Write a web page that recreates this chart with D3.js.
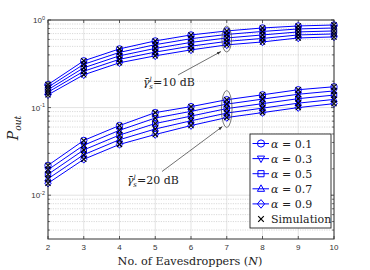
<!DOCTYPE html>
<html>
<head>
<meta charset="utf-8">
<script src="https://cdn.jsdelivr.net/npm/d3@7/dist/d3.min.js"></script>
<style>
  body { margin: 0; background: #fff; }
  svg { display: block; }
  .tick-label { font-family: "Liberation Sans", Arial, sans-serif; font-size: 8px; fill: #333; }
  .serif { font-family: "DejaVu Serif", "Liberation Serif", serif; fill: #222; }
</style>
</head>
<body>
<div id="chart"></div>
<script>
const W = 370, H = 270;
const margin = { left: 48, right: 36, top: 20, bottom: 31 };

// number of eavesdroppers
const eaves = [2, 3, 4, 5, 6, 7, 8, 9, 10];
const alphas = ['0.1', '0.3', '0.5', '0.7', '0.9'];
const markers = ['circle', 'triDown', 'square', 'triUp', 'diamond'];

// P_out, gamma = 10 dB
const hi01 = [0.183, 0.342, 0.468, 0.577, 0.675, 0.750, 0.811, 0.855, 0.877];
const hi03 = [0.171, 0.312, 0.427, 0.523, 0.612, 0.684, 0.740, 0.790, 0.811];
const hi05 = [0.160, 0.285, 0.390, 0.474, 0.555, 0.624, 0.675, 0.731, 0.750];
const hi07 = [0.150, 0.260, 0.356, 0.430, 0.503, 0.570, 0.616, 0.675, 0.693];
const hi09 = [0.140, 0.237, 0.325, 0.390, 0.456, 0.520, 0.562, 0.624, 0.641];

// P_out, gamma = 20 dB
const lo01 = [0.0219, 0.0422, 0.0624, 0.0877, 0.1026, 0.123, 0.140, 0.160, 0.173];
const lo03 = [0.0195, 0.0372, 0.0551, 0.0760, 0.0906, 0.1096, 0.125, 0.142, 0.155];
const lo05 = [0.0173, 0.0329, 0.0486, 0.0658, 0.0800, 0.0975, 0.111, 0.1265, 0.139];
const lo07 = [0.0154, 0.0290, 0.0430, 0.0570, 0.0707, 0.0866, 0.0986, 0.1124, 0.124];
const lo09 = [0.0137, 0.0257, 0.0380, 0.0493, 0.0624, 0.077, 0.0877, 0.100, 0.111];

const series = [
  { alpha: alphas[0], marker: markers[0], hi: hi01, lo: lo01 },
  { alpha: alphas[1], marker: markers[1], hi: hi03, lo: lo03 },
  { alpha: alphas[2], marker: markers[2], hi: hi05, lo: lo05 },
  { alpha: alphas[3], marker: markers[3], hi: hi07, lo: lo07 },
  { alpha: alphas[4], marker: markers[4], hi: hi09, lo: lo09 },
];

const yMin = Math.pow(10, -2.5);
const yTicks = [1e-2, 1e-1, 1];
const yTickExp = ['-2', '-1', '0'];

const svg = d3.select('#chart').append('svg').attr('width', W).attr('height', H);

const x = d3.scaleLinear().domain([2, 10]).range([margin.left, W - margin.right]);
const y = d3.scaleLog().domain([yMin, 1]).range([H - margin.bottom, margin.top]);

const x0 = x.range()[0], x1 = x.range()[1], y0 = y.range()[0], y1 = y.range()[1];

// minor ticks in log space
const minor = [];
[-3, -2, -1].forEach(e => {
  for (let k = 2; k <= 9; k++) {
    const v = k * Math.pow(10, e);
    if (v >= yMin && v < 1) minor.push(v);
  }
});

const grid = svg.append('g');
grid.selectAll('.vg').data(eaves).enter().append('line')
  .attr('x1', d => x(d)).attr('x2', d => x(d)).attr('y1', y0).attr('y2', y1)
  .attr('stroke', '#e3e3e3').attr('stroke-width', 1);
grid.selectAll('.mg').data(minor).enter().append('line')
  .attr('x1', x0).attr('x2', x1).attr('y1', d => y(d)).attr('y2', d => y(d))
  .attr('stroke', '#cfcfcf').attr('stroke-width', 0.8).attr('stroke-dasharray', '1.2,1.2');
grid.selectAll('.hg').data(yTicks).enter().append('line')
  .attr('x1', x0).attr('x2', x1).attr('y1', d => y(d)).attr('y2', d => y(d))
  .attr('stroke', '#e3e3e3').attr('stroke-width', 1);

// ticks (inside, all four sides)
const ticks = svg.append('g').attr('stroke', '#333').attr('stroke-width', 0.8);
eaves.forEach(d => {
  ticks.append('line').attr('x1', x(d)).attr('x2', x(d)).attr('y1', y0).attr('y2', y0 - 3);
  ticks.append('line').attr('x1', x(d)).attr('x2', x(d)).attr('y1', y1).attr('y2', y1 + 3);
});
yTicks.forEach(d => {
  ticks.append('line').attr('x1', x0).attr('x2', x0 + 3).attr('y1', y(d)).attr('y2', y(d));
  ticks.append('line').attr('x1', x1).attr('x2', x1 - 3).attr('y1', y(d)).attr('y2', y(d));
});
minor.forEach(d => {
  ticks.append('line').attr('x1', x0).attr('x2', x0 + 1.8).attr('y1', y(d)).attr('y2', y(d));
  ticks.append('line').attr('x1', x1).attr('x2', x1 - 1.8).attr('y1', y(d)).attr('y2', y(d));
});

// tick labels
svg.selectAll('.xl').data(eaves).enter().append('text')
  .attr('class', 'tick-label').attr('x', d => x(d)).attr('y', y0 + 11)
  .attr('text-anchor', 'middle').text(d => d);

yTicks.forEach((d, i) => {
  const t = svg.append('text').attr('class', 'tick-label')
    .attr('x', x0 - 3).attr('y', y(d) + 3).attr('text-anchor', 'end');
  t.append('tspan').text('10');
  t.append('tspan').attr('dy', -3.5).style('font-size', '5.5px').text(yTickExp[i]);
});

// curves
const line = d3.line().x(d => x(d[0])).y(d => y(d[1]));
const blue = '#0000ff';

const markerPath = (type, r) => {
  switch (type) {
    case 'circle': return d3.symbol(d3.symbolCircle, Math.PI * r * r)();
    case 'square': return `M${-r * 0.85},${-r * 0.85}h${r * 1.7}v${r * 1.7}h${-r * 1.7}Z`;
    case 'triUp': return `M0,${-r * 1.1}L${r},${r * 0.7}L${-r},${r * 0.7}Z`;
    case 'triDown': return `M0,${r * 1.1}L${r},${-r * 0.7}L${-r},${-r * 0.7}Z`;
    case 'diamond': return `M0,${-r * 1.2}L${r},0L0,${r * 1.2}L${-r},0Z`;
  }
};

const plot = svg.append('g');
series.forEach(s => {
  ['hi', 'lo'].forEach(k => {
    const pts = eaves.map((n, i) => [n, s[k][i]]);
    plot.append('path').attr('d', line(pts)).attr('fill', 'none')
      .attr('stroke', blue).attr('stroke-width', 1);
    plot.selectAll(null).data(pts).enter().append('path')
      .attr('transform', d => `translate(${x(d[0])},${y(d[1])})`)
      .attr('d', markerPath(s.marker, 3.2))
      .attr('fill', 'none').attr('stroke', blue).attr('stroke-width', 1);
  });
});
// simulation crosses
series.forEach(s => {
  ['hi', 'lo'].forEach(k => {
    const pts = eaves.map((n, i) => [n, s[k][i]]);
    plot.selectAll(null).data(pts).enter().append('path')
      .attr('transform', d => `translate(${x(d[0])},${y(d[1])})`)
      .attr('d', 'M-2.6,-2.6L2.6,2.6M-2.6,2.6L2.6,-2.6')
      .attr('stroke', '#000').attr('stroke-width', 1.1);
  });
});

// box
svg.append('rect').attr('x', x0).attr('y', y1).attr('width', x1 - x0).attr('height', y0 - y1)
  .attr('fill', 'none').attr('stroke', '#333').attr('stroke-width', 1);

// annotations
const ann = svg.append('g');
ann.append('ellipse').attr('cx', x(7)).attr('cy', 39).attr('rx', 4.8).attr('ry', 13)
  .attr('fill', 'none').attr('stroke', '#444').attr('stroke-width', 0.7);
ann.append('ellipse').attr('cx', x(7)).attr('cy', 109).attr('rx', 5.3).attr('ry', 18.5)
  .attr('fill', 'none').attr('stroke', '#444').attr('stroke-width', 0.7);

svg.append('defs').append('marker').attr('id', 'ah')
  .attr('viewBox', '0 0 10 10').attr('refX', 10).attr('refY', 5)
  .attr('markerWidth', 6).attr('markerHeight', 6).attr('orient', 'auto')
  .append('path').attr('d', 'M0,1.5L10,5L0,8.5Z').attr('fill', '#333');

ann.append('line').attr('x1', 178).attr('y1', 75).attr('x2', 221).attr('y2', 51.5)
  .attr('stroke', '#333').attr('stroke-width', 0.7).attr('marker-end', 'url(#ah)');
ann.append('line').attr('x1', 162).attr('y1', 171.5).attr('x2', 222.5).attr('y2', 126.5)
  .attr('stroke', '#333').attr('stroke-width', 0.7).attr('marker-end', 'url(#ah)');

const gammaLabel = (xp, yp, txt) => {
  const t = ann.append('text').attr('class', 'serif').attr('x', xp).attr('y', yp).style('font-size', '11px');
  t.append('tspan').style('font-style', 'italic').text('γ\u0304');
  t.append('tspan').attr('dy', -4).style('font-size', '7px').style('font-style', 'italic').text('l');
  t.append('tspan').attr('dx', -2.5).attr('dy', 7).style('font-size', '7px').style('font-style', 'italic').text('s');
  t.append('tspan').attr('dy', -3).text(txt);
};
gammaLabel(143, 86, '=10 dB');
gammaLabel(127, 184, '=20 dB');

// axis labels
const xl = svg.append('text').attr('class', 'serif').attr('x', (x0 + x1) / 2 - 1).attr('y', 265)
  .attr('text-anchor', 'middle').style('font-size', '11.2px');
xl.append('tspan').text('No. of Eavesdroppers (');
xl.append('tspan').style('font-style', 'italic').text('N');
xl.append('tspan').text(')');

const yl = svg.append('text').attr('class', 'serif')
  .attr('transform', 'translate(18,128) rotate(-90)').attr('text-anchor', 'middle')
  .style('font-size', '14px').style('font-style', 'italic');
yl.append('tspan').text('P');
yl.append('tspan').attr('dy', 3).style('font-size', '9px').text('out');

// legend
const lg = svg.append('g');
const lgX = 250, lgY = 134;
lg.append('rect').attr('x', lgX).attr('y', lgY).attr('width', 81).attr('height', 94)
  .attr('fill', '#fff').attr('stroke', '#222').attr('stroke-width', 0.9);
const rowY = i => lgY + 9.5 + i * 15.1;
series.forEach((s, i) => {
  const ry = rowY(i);
  lg.append('line').attr('x1', 252.5).attr('x2', 269).attr('y1', ry).attr('y2', ry)
    .attr('stroke', blue).attr('stroke-width', 1);
  lg.append('path').attr('transform', `translate(261,${ry})`).attr('d', markerPath(s.marker, 3.6))
    .attr('fill', 'none').attr('stroke', blue).attr('stroke-width', 1);
  const t = lg.append('text').attr('class', 'serif').attr('x', 271).attr('y', ry + 4).style('font-size', '11px');
  t.append('tspan').style('font-style', 'italic').text('α');
  t.append('tspan').text(' = ' + s.alpha);
});
const sy = rowY(5);
lg.append('path').attr('transform', `translate(261,${sy})`).attr('d', 'M-2.8,-2.8L2.8,2.8M-2.8,2.8L2.8,-2.8')
  .attr('stroke', '#000').attr('stroke-width', 1.2);
lg.append('text').attr('class', 'serif').attr('x', 271).attr('y', sy + 4).style('font-size', '11px').text('Simulation');
</script>
</body>
</html>
